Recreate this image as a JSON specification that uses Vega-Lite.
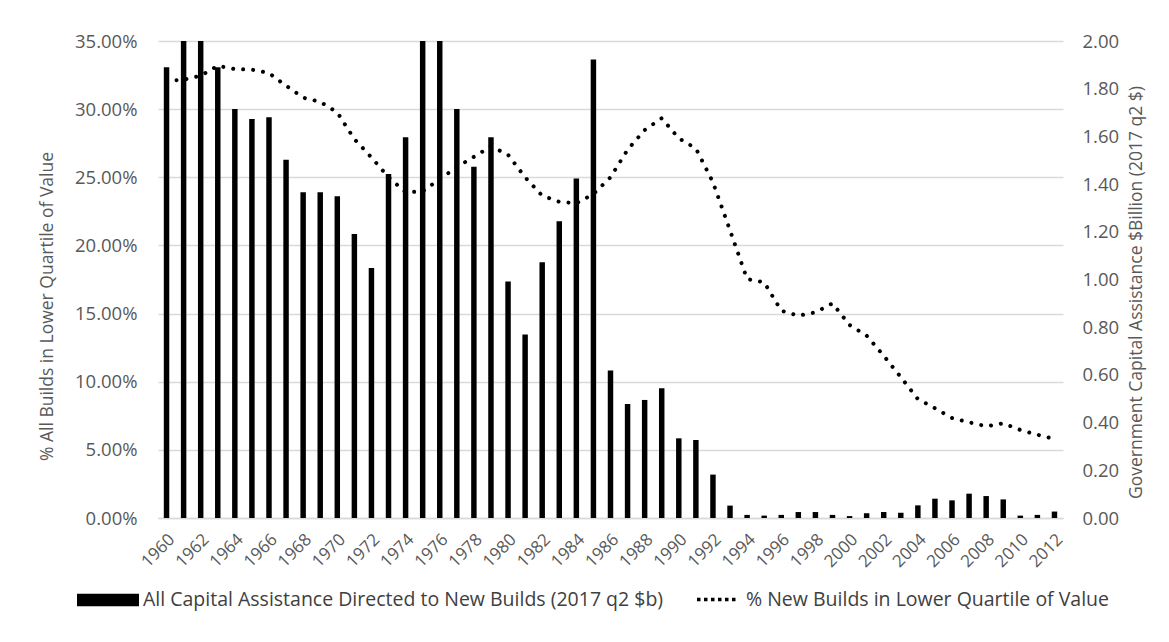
{
  "$schema": "https://vega.github.io/schema/vega-lite/v6.json",
  "width": 905,
  "height": 477,
  "autosize": {"type": "none"},
  "padding": {"left": 158, "top": 41, "right": 106, "bottom": 124},
  "background": "white",
  "config": {
    "view": {"stroke": null},
    "font": "Open Sans",
    "axis": {"labelColor": "#595959", "titleColor": "#595959", "titleFontWeight": "normal", "ticks": false, "domain": false, "grid": false, "labelFont": "Open Sans", "titleFont": "Open Sans"},
    "legend": {"labelColor": "#404040", "labelFont": "Open Sans", "labelFontSize": 19.5, "labelLimit": 0, "padding": 0}
  },
  "data": {
    "values": [
      {"year": 1960, "capital": 1.89, "pct": 0.3208},
      {"year": 1961, "capital": 2.0, "pct": 0.3216},
      {"year": 1962, "capital": 2.0, "pct": 0.3245},
      {"year": 1963, "capital": 1.89, "pct": 0.3318},
      {"year": 1964, "capital": 1.715, "pct": 0.3294},
      {"year": 1965, "capital": 1.673, "pct": 0.329},
      {"year": 1966, "capital": 1.68, "pct": 0.3265},
      {"year": 1967, "capital": 1.502, "pct": 0.3172},
      {"year": 1968, "capital": 1.366, "pct": 0.3084},
      {"year": 1969, "capital": 1.366, "pct": 0.3054},
      {"year": 1970, "capital": 1.349, "pct": 0.2976},
      {"year": 1971, "capital": 1.191, "pct": 0.278},
      {"year": 1972, "capital": 1.048, "pct": 0.2646},
      {"year": 1973, "capital": 1.442, "pct": 0.25},
      {"year": 1974, "capital": 1.596, "pct": 0.239},
      {"year": 1975, "capital": 2.0, "pct": 0.2397},
      {"year": 1976, "capital": 2.0, "pct": 0.2487},
      {"year": 1977, "capital": 1.715, "pct": 0.2575},
      {"year": 1978, "capital": 1.473, "pct": 0.265},
      {"year": 1979, "capital": 1.596, "pct": 0.2727},
      {"year": 1980, "capital": 0.992, "pct": 0.2666},
      {"year": 1981, "capital": 0.769, "pct": 0.25},
      {"year": 1982, "capital": 1.072, "pct": 0.2365},
      {"year": 1983, "capital": 1.244, "pct": 0.232},
      {"year": 1984, "capital": 1.424, "pct": 0.2309},
      {"year": 1985, "capital": 1.922, "pct": 0.2377},
      {"year": 1986, "capital": 0.618, "pct": 0.25},
      {"year": 1987, "capital": 0.478, "pct": 0.2702},
      {"year": 1988, "capital": 0.495, "pct": 0.2847},
      {"year": 1989, "capital": 0.544, "pct": 0.2933},
      {"year": 1990, "capital": 0.334, "pct": 0.2786},
      {"year": 1991, "capital": 0.327, "pct": 0.2712},
      {"year": 1992, "capital": 0.182, "pct": 0.2463},
      {"year": 1993, "capital": 0.052, "pct": 0.211},
      {"year": 1994, "capital": 0.013, "pct": 0.1753},
      {"year": 1995, "capital": 0.01, "pct": 0.173},
      {"year": 1996, "capital": 0.013, "pct": 0.1521},
      {"year": 1997, "capital": 0.025, "pct": 0.1484},
      {"year": 1998, "capital": 0.025, "pct": 0.1509},
      {"year": 1999, "capital": 0.013, "pct": 0.1575},
      {"year": 2000, "capital": 0.008, "pct": 0.1416},
      {"year": 2001, "capital": 0.02, "pct": 0.1338},
      {"year": 2002, "capital": 0.025, "pct": 0.1191},
      {"year": 2003, "capital": 0.022, "pct": 0.1034},
      {"year": 2004, "capital": 0.053, "pct": 0.0873},
      {"year": 2005, "capital": 0.081, "pct": 0.0805},
      {"year": 2006, "capital": 0.074, "pct": 0.0734},
      {"year": 2007, "capital": 0.102, "pct": 0.0702},
      {"year": 2008, "capital": 0.092, "pct": 0.0673},
      {"year": 2009, "capital": 0.078, "pct": 0.0695},
      {"year": 2010, "capital": 0.01, "pct": 0.0646},
      {"year": 2011, "capital": 0.013, "pct": 0.0611},
      {"year": 2012, "capital": 0.027, "pct": 0.058}
    ]
  },
  "layer": [
    {
      "mark": {"type": "bar", "clip": true},
      "encoding": {
        "x": {
          "field": "year",
          "type": "ordinal",
          "scale": {"paddingInner": 0.68, "paddingOuter": 0.34},
          "axis": {
            "title": null,
            "values": [1960, 1962, 1964, 1966, 1968, 1970, 1972, 1974, 1976, 1978, 1980, 1982, 1984, 1986, 1988, 1990, 1992, 1994, 1996, 1998, 2000, 2002, 2004, 2006, 2008, 2010, 2012],
            "labelAngle": -45,
            "labelFontSize": 17,
            "labelPadding": 13,
            "domain": true,
            "domainColor": "#d9d9d9",
            "domainWidth": 1.5
          }
        },
        "y": {
          "field": "capital",
          "type": "quantitative",
          "scale": {"domain": [0, 2]},
          "axis": {
            "orient": "right",
            "title": "Government Capital Assistance $Billion (2017 q2 $)",
            "titleAngle": -90,
            "titleFontSize": 17.5,
            "titleX": 73,
            "titleY": 251,
            "titleAlign": "center",
            "titleBaseline": "middle",
            "values": [0, 0.2, 0.4, 0.6, 0.8, 1.0, 1.2, 1.4, 1.6, 1.8, 2.0],
            "format": ".2f",
            "labelFontSize": 18.5,
            "labelPadding": 19
          }
        },
        "fill": {
          "datum": "All Capital Assistance Directed to New Builds (2017 q2 $b)",
          "type": "nominal",
          "scale": {"range": ["#000000"]},
          "legend": {
            "title": null,
            "orient": "none",
            "legendX": -81,
            "legendY": 528,
            "symbolType": "M-1,-0.2H1V0.2H-1Z",
            "symbolSize": 3844,
            "symbolStrokeWidth": 0,
            "labelOffset": 4
          }
        }
      }
    },
    {
      "mark": {"type": "line", "strokeWidth": 4, "strokeDash": [0.01, 10], "strokeCap": "round"},
      "encoding": {
        "x": {"field": "year", "type": "ordinal"},
        "y": {
          "field": "pct",
          "type": "quantitative",
          "scale": {"domain": [0, 0.35]},
          "axis": {
            "orient": "left",
            "title": "% All Builds in Lower Quartile of Value",
            "titleFontSize": 17.5,
            "titleAngle": -90,
            "titleX": -111,
            "titleY": 265,
            "titleAlign": "center",
            "titleBaseline": "middle",
            "values": [0, 0.05, 0.1, 0.15, 0.2, 0.25, 0.3, 0.35],
            "format": ".2%",
            "labelFontSize": 18.5,
            "labelPadding": 21,
            "grid": true,
            "gridColor": "#d9d9d9",
            "gridWidth": 1.5
          }
        },
        "stroke": {
          "datum": "% New Builds in Lower Quartile of Value",
          "type": "nominal",
          "scale": {"range": ["#000000"]},
          "legend": {
            "title": null,
            "orient": "none",
            "legendX": 537,
            "legendY": 536,
            "symbolType": "stroke",
            "symbolSize": 1681,
            "symbolStrokeWidth": 3.5,
            "symbolDash": [3.5, 3.5],
            "labelOffset": 6
          }
        }
      }
    }
  ],
  "resolve": {"scale": {"y": "independent", "fill": "independent", "stroke": "independent"}}
}
